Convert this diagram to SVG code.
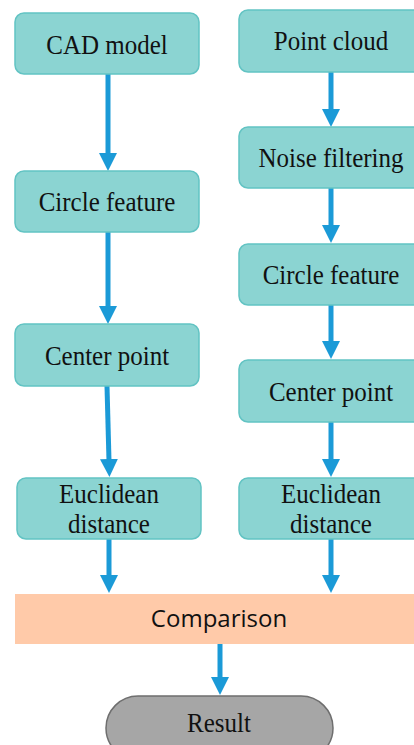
<svg xmlns="http://www.w3.org/2000/svg" width="414" height="745" viewBox="0 0 414 745">
<defs>
<style>
.box{fill:#8BD4D2;stroke:#62C3C3;stroke-width:1.5}
.t{font-family:"Liberation Serif","Times New Roman",serif;font-size:25px;fill:#111;text-anchor:middle}
.ts{font-family:"Open Sans","Liberation Sans",sans-serif;font-size:24px;fill:#111;text-anchor:middle}
.arr{stroke:#1B9AD7;stroke-width:5;fill:none;marker-end:url(#ah)}
</style>
<marker id="ah" markerUnits="userSpaceOnUse" markerWidth="18" markerHeight="18" refX="2" refY="9" orient="auto">
<path d="M0,0 L18,9 L0,18 Z" fill="#1B9AD7"/>
</marker>
</defs>
<rect width="414" height="745" fill="#fff"/>
<g id="connectors">
<path class="arr" d="M108,74 L108,155"/>
<path class="arr" d="M108,232 L108,308"/>
<path class="arr" d="M107,386 L109,461"/>
<path class="arr" d="M109,539 L109,577"/>
<path class="arr" d="M331,72 L331,111"/>
<path class="arr" d="M331,188 L331,227"/>
<path class="arr" d="M331,305 L331,343"/>
<path class="arr" d="M331,422 L331,461"/>
<path class="arr" d="M331,539 L331,577"/>
<path class="arr" d="M220,644 L220,679"/>
</g>
<g id="cad"><rect class="box" x="15" y="13" width="184" height="61" rx="9"/><text class="t" transform="translate(107,54) scale(1,1.12)">CAD model</text></g>
<g id="circle-left"><rect class="box" x="15" y="171" width="184" height="61" rx="9"/><text class="t" transform="translate(107,211) scale(1,1.12)">Circle feature</text></g>
<g id="center-left"><rect class="box" x="15" y="324" width="184" height="62" rx="9"/><text class="t" transform="translate(107,365) scale(1,1.12)">Center point</text></g>
<g id="euclid-left"><rect class="box" x="17" y="478" width="184" height="61" rx="9"/><text class="t" transform="translate(109,503) scale(1,1.12)">Euclidean</text><text class="t" transform="translate(109,533) scale(1,1.12)">distance</text></g>
<g id="pointcloud"><rect class="box" x="239" y="10" width="190" height="62" rx="9"/><text class="t" transform="translate(331,50) scale(1,1.12)">Point cloud</text></g>
<g id="noise"><rect class="box" x="239" y="127" width="190" height="61" rx="9"/><text class="t" transform="translate(331,167) scale(1,1.12)">Noise filtering</text></g>
<g id="circle-right"><rect class="box" x="239" y="244" width="190" height="61" rx="9"/><text class="t" transform="translate(331,284) scale(1,1.12)">Circle feature</text></g>
<g id="center-right"><rect class="box" x="239" y="360" width="190" height="62" rx="9"/><text class="t" transform="translate(331,401) scale(1,1.12)">Center point</text></g>
<g id="euclid-right"><rect class="box" x="239" y="478" width="190" height="61" rx="9"/><text class="t" transform="translate(331,503) scale(1,1.12)">Euclidean</text><text class="t" transform="translate(331,533) scale(1,1.12)">distance</text></g>
<g id="comparison"><rect x="15" y="594" width="410" height="50" fill="#FFCAA9"/><text class="ts" x="219" y="627">Comparison</text></g>
<g id="result"><rect x="106" y="696" width="227" height="64" rx="32" fill="#A6A6A6" stroke="#6E6E6E" stroke-width="1.5"/><text class="t" transform="translate(219,732) scale(1,1.12)">Result</text></g>
</svg>
